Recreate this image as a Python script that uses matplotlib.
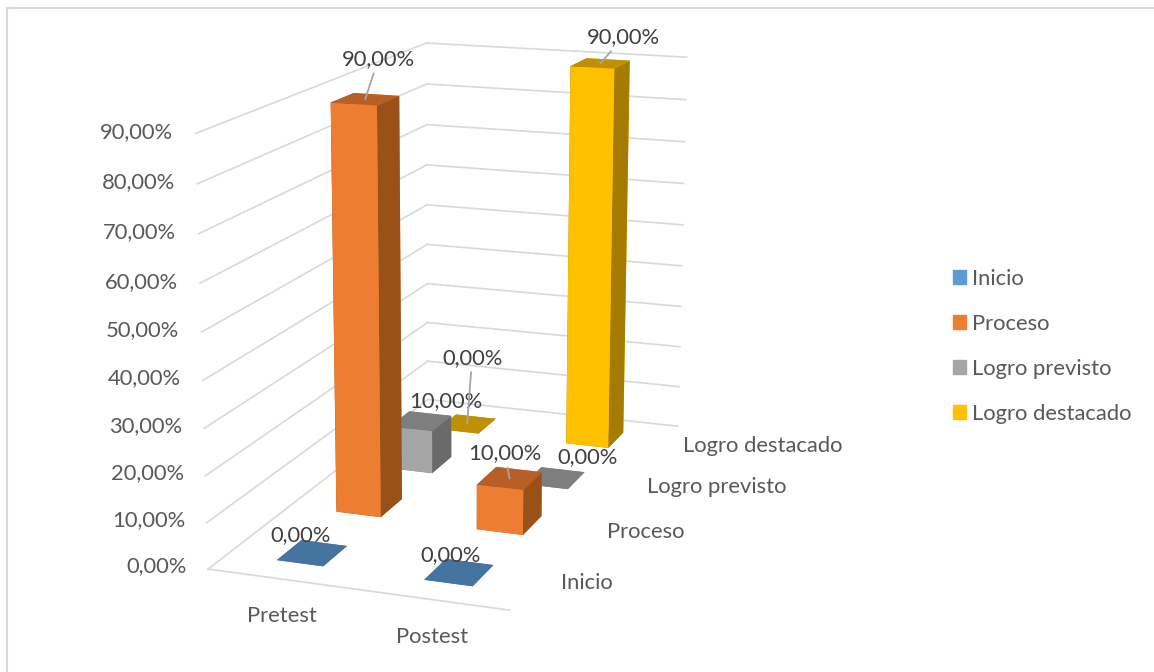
import numpy as np
import matplotlib
matplotlib.use("Agg")
import matplotlib.pyplot as plt
from matplotlib.lines import Line2D
from matplotlib.patches import Patch
from mpl_toolkits.mplot3d import proj3d

plt.rcParams['font.family'] = ['Lato', 'DejaVu Sans']

categories = ["Pretest", "Postest"]
series = ["Inicio", "Proceso", "Logro previsto", "Logro destacado"]
values = {
    "Inicio": [0, 0],
    "Proceso": [90, 10],
    "Logro previsto": [10, 0],
    "Logro destacado": [0, 90],
}
ticks = [0, 10, 20, 30, 40, 50, 60, 70, 80, 90]

# front, top, side
colors = {
    "Inicio": ("#5B9BD5", "#4674A0", "#3F6A92"),
    "Proceso": ("#ED7D31", "#B85F25", "#9A5019"),
    "Logro previsto": ("#A5A5A5", "#7E7E7E", "#6A6A6A"),
    "Logro destacado": ("#FFC000", "#BF9000", "#A67C00"),
}
legend_colors = ["#5B9BD5", "#ED7D31", "#A5A5A5", "#FFC000"]

# label offset in pixels from top of bar, (series index, category index)
label_offsets = {
    (0, 0): (-12, 18),
    (0, 1): (-9, 17),
    (1, 0): (13, 40),
    (1, 1): (-5, 25),
    (2, 0): (25, 20),
    (2, 1): (33, 21),
    (3, 0): (5, 66),
    (3, 1): (23, 26),
}
leaders = [(1, 0), (1, 1), (3, 0), (3, 1)]

W, H = 1154, 672
fig = plt.figure(figsize=(W / 100, H / 100), dpi=100)
ax = fig.add_axes([80.4 / W, -7 / H, 746 / W, 746 / H], projection='3d')
ax.computed_zorder = False
ax.set_box_aspect((327, 634, 454))
ax.view_init(elev=14.5, azim=-70)
ax.set_proj_type('persp', focal_length=0.595)
ax.set_xlim(0, 2, view_margin=0)
ax.set_ylim(0, 4, view_margin=0)
ax.set_zlim(0, 90, view_margin=0)
ax.set_axis_off()

grid = "#D9D9D9"
for t in ticks:
    ax.plot([0, 0], [0, 4], [t, t], color=grid, lw=1.2, zorder=1)
    ax.plot([0, 2], [4, 4], [t, t], color=grid, lw=1.2, zorder=1)
    ax.text(-0.15, 0, t - 0.1, f"{t},00%", ha='right', va='center', fontsize=15.8, color="#595959")
ax.plot([0, 2], [0, 0], [0, 0], color=grid, lw=1.2, zorder=1)

w, d = 0.32, 0.4
z = 2
for j in range(len(series) - 1, -1, -1):
    name = series[j]
    for i in range(len(categories)):
        front, top, side = colors[name]
        # bottom, top, -y, +y, -x, +x
        faces = [top, top, front, front, side, side]
        ax.bar3d(i + 0.5 - w / 2, j + 0.5 - d / 2, 0, w, d, values[name][i],
                 color=faces, shade=False, linewidth=0, zorder=z)
        z += 1

fig.canvas.draw()
M = ax.get_proj()
for j, name in enumerate(series):
    for i in range(len(categories)):
        v = values[name][i]
        px, py, _ = proj3d.proj_transform(i + 0.5, j + 0.5, v, M)
        dx, dy = label_offsets[(j, i)]
        props = None
        if (j, i) in leaders:
            props = dict(arrowstyle='-', color="#A6A6A6", lw=1.3, shrinkA=1, shrinkB=0)
        ax.annotate(f"{v},00%", xy=(px, py), xycoords='data', xytext=(dx, dy),
                    textcoords='offset pixels', ha='center', va='center',
                    fontsize=15.8, color="#404040", arrowprops=props, zorder=50)

for i, c in enumerate(categories):
    ax.text(i + 0.5, 0, -7.9, c, ha='center', va='center', fontsize=15.8, color="#595959")
for j, s in enumerate(series):
    ax.text(2.17, j + 0.5, 0.5, s, ha='left', va='center', fontsize=15.8, color="#595959")

handles = [Patch(color=c, label=s) for c, s in zip(legend_colors, series)]
fig.legend(handles=handles, loc='upper left', bbox_to_anchor=(933 / W, 1 - 249 / H),
           frameon=False, fontsize=15.8, handlelength=0.6, handleheight=0.6,
           handletextpad=0.3, labelspacing=1.14, labelcolor="#595959")

# chart border only shows on left and top
fig.add_artist(Line2D([7 / W, 7 / W], [0, 1 - 8 / H], transform=fig.transFigure, color="#D9D9D9", lw=1.5))
fig.add_artist(Line2D([7 / W, 1], [1 - 8 / H, 1 - 8 / H], transform=fig.transFigure, color="#D9D9D9", lw=1.5))
fig.savefig("out.png", dpi=100)
